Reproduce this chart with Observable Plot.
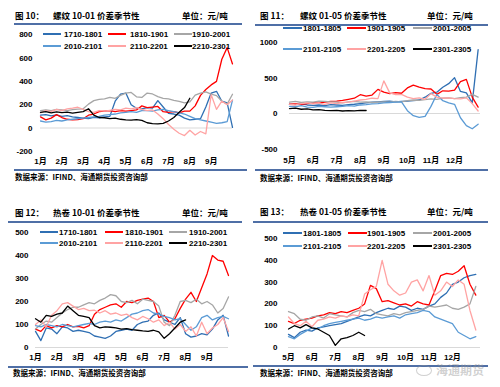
<!DOCTYPE html>
<html><head><meta charset="utf-8">
<script src="https://cdn.jsdelivr.net/npm/d3@7"></script>
<script src="https://cdn.jsdelivr.net/npm/@observablehq/plot@0.6"></script>
<style>
body{margin:0;background:#fff;}
#root{position:relative;width:500px;height:387px;overflow:hidden;background:#fff;}
.t{position:absolute;font-family:"Noto Sans CJK SC",sans-serif;font-weight:700;white-space:nowrap;color:#000;}
.rule{position:absolute;height:2px;background:#4f6fa6;}
.leg{position:absolute;font-family:"Liberation Sans",Arial,sans-serif;font-size:8px;font-weight:700;line-height:9px;white-space:nowrap;color:#000;}
.sw{position:absolute;height:2px;}
.chart{position:absolute;}
.wm{position:absolute;font-family:"Noto Sans CJK SC",sans-serif;font-size:12px;line-height:12px;font-weight:700;color:rgba(150,150,150,0.45);white-space:nowrap;}
</style></head>
<body><div id="root"></div>
<script>
const STEP = 0.25;
const colors = ["#2f6fb3","#ff0000","#a6a6a6","#5b9bd5","#ffa3a3","#000000"];

const monthsA = ["1月","2月","3月","4月","5月","6月","7月","8月","9月"];
const monthsB = ["5月","6月","7月","8月","9月","10月","11月","12月"];

// Panel 1: 螺纹 10-01
const p1Names = ["1710-1801","1810-1901","1910-2001","2010-2101","2110-2201","2210-2301"];
const p1_1710 = [110,115,105,112, 100,106,95,90, 85,80,92,88, 95,100,230,290, 300,200,170,165, 175,170,235,180, 125,120,110,85, 70,75,80,180, 300,315,230,215, 5];
const p1_1810 = [95,70,85,115, 90,75,70,72, 80,110,120,140, 145,150,140,150, 145,150,155,190, 175,180,185,140, 135,140,130,145, 145,190,280,330, 370,400,590,690, 550];
const p1_1910 = [150,155,150,160, 155,150,158,162, 165,205,235,245, 250,262,255,280, 300,305,268,262, 300,292,270,255, 250,238,228,215, 225,282,300,310, 290,278,230,205, 290];
const p1_2010 = [60,50,55,65, 60,70,75,80, 85,90,95,100, 110,115,120,130, 135,140,135,150, 150,145,155,160, 150,140,130,120, 100,80,70,60, 50,40,45,55, 240];
const p1_2110 = [130,150,140,160, 150,165,170,178, 160,140,135,150, 145,152,160,155, 170,165,175,160, 150,155,120,80, 30,-10,-45,-65, -20,-60,-30,-50, 285,160,230,200, 240];
const p1_2210 = [135,140,130,138, 132,136,128,135, 140,165,110,90, 88,80,85,75, 70,68,72,65, 45,38,35,40, 60,90,135,175, 255];
const p1Ticks = [-200,0,200,400,600,800];

// Panel 2: 螺纹 01-05
const p2Names = ["1801-1805","1901-1905","2001-2005","2101-2105","2201-2205","2301-2305"];
const p2_1801 = [130,125,135,120, 115,120,110,125, 120,115,125,130, 140,150,160,165, 170,175,165,170, 175,180,190,230, 285,300,370,420, 505,310,290,150, 900];
const p2_1901 = [130,135,128,140, 150,145,160,170, 175,185,200,215, 265,245,260,340, 300,280,295,285, 360,400,370,350, 345,270,320,315, 330,450,480,230, 90];
const p2_2001 = [160,170,155,165, 160,175,170,165, 160,150,165,170, 160,165,155,160, 165,160,170,165, 180,190,185,195, 205,200,215,220, 210,225,230,270, 230];
const p2_2101 = [100,95,110,90, 85,100,95,90, 95,100,110,105, 120,125,135,140, 150,155,160,165, 40,-30,-55,-40, 100,270,180,150, 130,-60,-170,-215, -150];
const p2_2201 = [130,120,140,150, 135,145,130,150, 140,155,160,175, 190,200,215,210, 460,290,265,270, 230,210,220,200, 280,230,215,220, 210,205,220,140, 35];
const p2_2301 = [70,75,60,65, 50,55,45,40, 45,35,40,38, 45,42];
const p2Ticks = [-500,0,500,1000];

// Panel 3: 热卷 10-01
const p3Names = ["1710-1801","1810-1901","1910-2001","2010-2101","2110-2201","2210-2301"];
const p3_1710 = [70,30,85,80, 60,90,85,70, 75,70,65,50, 45,40,50,70, 75,80,75,100, 110,115,140,150, 120,110,100,130, 60,45,50,60, 55,80,120,140, 50];
const p3_1810 = [80,70,95,85, 95,90,100,90, 92,85,95,145, 165,175,185,190, 175,200,195,205, 210,215,200,130, 140,110,125,170, 210,240,200,260, 320,400,380,375, 313];
const p3_1910 = [80,100,115,110, 130,150,165,175, 175,185,195,190, 205,215,230,225, 200,195,205,190, 210,205,200,180, 110,95,140,200, 205,195,210,190, 200,185,150,170, 220];
const p3_2010 = [95,90,100,95, 90,100,95,90, 95,100,105,100, 110,115,110,120, 115,130,145,150, 160,165,150,145, 135,130,120,125, 100,75,90,130, 140,120,130,135, 125];
const p3_2110 = [100,120,90,140, 160,190,195,180, 165,170,160,162, 150,160,145,150, 140,145,130,120, 135,125,110,120, 95,110,80,100, 70,90,50,110, 60,85,100,130, 70];
const p3_2210 = [125,110,140,135, 145,150,180,160, 140,135,130,95, 85,90,88,85, 80,82,78,75, 72,70,75,68, 40,60,85,110, 120];
const p3Ticks = [0,100,200,300,400,500];

// Panel 4: 热卷 01-05
const p4Names = ["1801-1805","1901-1905","2001-2005","2101-2105","2201-2205","2301-2305"];
const p4_1801 = [60,45,70,80, 75,90,95,100, 105,110,120,130, 140,150,145,160, 170,180,175,190, 185,170,180,175, 190,200,230,250, 290,300,320,330, 335];
const p4_1901 = [120,110,125,130, 135,145,150,160, 155,165,160,170, 180,200,285,270, 210,215,205,195, 200,190,210,200, 195,260,330,340, 335,350,375,290, 240];
const p4_2001 = [165,155,130,125, 140,145,135,155, 150,145,140,160, 170,165,175,155, 150,145,155,150, 160,165,170,175, 190,185,190,195, 180,175,185,200, 280];
const p4_2101 = [50,40,60,75, 90,85,100,110, 115,120,125,130, 135,125,130,140, 135,140,145,135, 150,155,160,170, 165,140,130,120, 110,70,55,40, 50];
const p4_2201 = [140,110,100,120, 95,125,130,140, 135,145,140,150, 145,245,265,280, 400,290,260,240, 250,300,310,260, 330,240,260,300, 280,310,290,170, 80];
const p4_2301 = [85,100,90,105, 90,85,70,55, 10,40,45,55, 70,55];
const p4Ticks = [0,100,200,300,400,500];

const root = document.getElementById("root");
function el(cls, css, text){
  const d = document.createElement("div");
  d.className = cls;
  Object.assign(d.style, css);
  if (text != null) d.textContent = text;
  root.appendChild(d);
  return d;
}
function txt(s, x, cy, size){
  el("t", {left: x+"px", top: (cy - size/2 - 1)+"px", fontSize: size+"px", lineHeight: size+"px"}, s);
}

function panel(cfg){
  const data = [];
  cfg.names.forEach((n, k) => cfg.series[k].forEach((v, i) => data.push({x: i*STEP, y: v, s: n})));
  const svg = Plot.plot({
    width: cfg.w, height: cfg.h,
    marginLeft: cfg.ml, marginRight: cfg.mr, marginTop: cfg.mt, marginBottom: cfg.mb,
    x: {domain: cfg.xDomain},
    y: {domain: cfg.yDomain},
    color: {domain: cfg.names, range: colors},
    style: {fontFamily: "'Liberation Sans','Noto Sans CJK SC',sans-serif", fontSize: "8px", fontWeight: "bold", color: "#000", background: "transparent", overflow: "visible"},
    marks: [
      Plot.ruleY([0], {stroke: "#d9d9d9", strokeWidth: 1}),
      Plot.line(data, {x: "x", y: "y", z: "s", stroke: "s", strokeWidth: 1.3}),
      Plot.axisX({ticks: cfg.months.map((_, i) => i), tickFormat: i => cfg.months[i], tickSize: 0, tickPadding: cfg.xPad, label: null}),
      Plot.axisY({ticks: cfg.yTicks, tickFormat: d => String(d), tickSize: 0, tickPadding: cfg.yPad, label: null})
    ]
  });
  const holder = el("chart", {left: cfg.left+"px", top: cfg.top+"px"});
  holder.appendChild(svg);
  // legend
  cfg.names.forEach((n, k) => {
    const r = Math.floor(k/3), c = k%3;
    const cy = cfg.leg.rows[r];
    el("sw", {left: cfg.leg.sw[c]+"px", top: (cy-1)+"px", width: cfg.leg.sww+"px", background: colors[k]});
    el("leg", {left: cfg.leg.lx[c]+"px", top: (cy-4.5)+"px"}, n);
  });
  // title, rules, source
  txt(cfg.fig, cfg.tx[0], cfg.ty, 8.5);
  txt(cfg.title, cfg.tx[1], cfg.ty, 8.5);
  txt("单位：元/吨", cfg.tx[2], cfg.ty, 8.5);
  el("rule", {left: cfg.rx[0]+"px", width: (cfg.rx[1]-cfg.rx[0])+"px", top: (cfg.r1-1)+"px"});
  el("rule", {left: cfg.rx[0]+"px", width: (cfg.rx[2]-cfg.rx[0])+"px", top: (cfg.r2-1)+"px"});
  txt("数据来源：IFIND、海通期货投资咨询部", cfg.sx, cfg.sy, 7.5);
}

panel({names: p1Names, series: [p1_1710,p1_1810,p1_1910,p1_2010,p1_2110,p1_2210], months: monthsA,
  xDomain: [0,9], yDomain: [-200,800], yTicks: p1Ticks,
  left: 0, top: 26, w: 250, h: 140, ml: 40, mr: 18, mt: 8.3, mb: 15.2, xPad: 6.8, yPad: 8,
  leg: {rows: [34,46], sw: [43,108,174], sww: 18, lx: [64,130,192]},
  fig: "图 10：", title: "螺纹 10-01 价差季节性", tx: [15,53,182], ty: 16,
  rx: [14,242,247], r1: 24, r2: 170, sx: 15, sy: 178});

panel({names: p2Names, series: [p2_1801,p2_1901,p2_2001,p2_2101,p2_2201,p2_2301], months: monthsB,
  xDomain: [0,8.1], yDomain: [-500,1000], yTicks: p2Ticks,
  left: 250, top: 26, w: 250, h: 140, ml: 39, mr: 20, mt: 16, mb: 17.5, xPad: 8.6, yPad: 12,
  leg: {rows: [28,49], sw: [283,347,413], sww: 19, lx: [303,367,433]},
  fig: "图 11：", title: "螺纹 01-05 价差季节性", tx: [260,300,427], ty: 16,
  rx: [255,488,488], r1: 25, r2: 170, sx: 260, sy: 179});

panel({names: p3Names, series: [p3_1710,p3_1810,p3_1910,p3_2010,p3_2110,p3_2210], months: monthsA,
  xDomain: [0,9], yDomain: [0,500], yTicks: p3Ticks,
  left: 0, top: 224, w: 250, h: 140, ml: 35, mr: 22, mt: 8, mb: 17, xPad: 6.8, yPad: 7,
  leg: {rows: [232,243], sw: [40,105,169], sww: 18, lx: [59,125,189]},
  fig: "图 12：", title: "热卷 10-01 价差季节性", tx: [15,53,182], ty: 213,
  rx: [8,242,248], r1: 222, r2: 367, sx: 13, sy: 374});

panel({names: p4Names, series: [p4_1801,p4_1901,p4_2001,p4_2101,p4_2201,p4_2301], months: monthsB,
  xDomain: [0,8.2], yDomain: [0,500], yTicks: p4Ticks,
  left: 250, top: 224, w: 250, h: 140, ml: 38, mr: 20, mt: 14, mb: 17, xPad: 6.8, yPad: 11,
  leg: {rows: [233,246], sw: [283,348,413], sww: 19, lx: [303,367,433]},
  fig: "图 13：", title: "热卷 01-05 价差季节性", tx: [260,300,427], ty: 212,
  rx: [253,488,488], r1: 222, r2: 366, sx: 260, sy: 374});

el("wm", {left: "436px", top: "364px"}, "海通期货");
el("wm", {left: "416px", top: "365px", width: "14px", height: "9px", border: "1.5px solid rgba(150,150,150,0.45)", borderRadius: "50%"});
</script>
</body></html>
